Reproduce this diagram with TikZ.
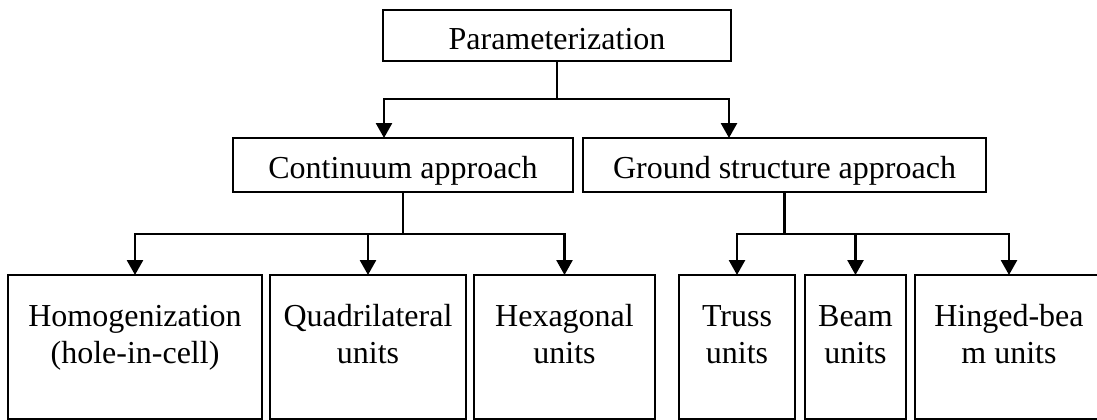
\documentclass[tikz,border=0pt]{standalone}
\usepackage{fontspec}
\setmainfont{Liberation Serif}
\usetikzlibrary{arrows.meta}
\begin{document}
\begin{tikzpicture}[x=1pt,y=-1pt,
  box/.style={draw,line width=1.8pt,inner sep=0pt,outer sep=0pt},
  txt/.style={font=\fontsize{32pt}{37pt}\selectfont,inner sep=0pt,align=center},
  conn/.style={line width=2.7pt},
  arr/.style={conn,-{Triangle[width=16pt,length=15pt]}}]
\useasboundingbox (0,0) rectangle (1097,420);
\clip (0,0) rectangle (1097,420);
\fill[white] (0,0) rectangle (1097,420);
% level 0
\node[box,minimum width=348pt,minimum height=51pt] (P) at (557,35.5) {};
\node[txt,anchor=base] (Pt) at (557,50) {Parameterization};
% level 1
\node[box,minimum width=340pt,minimum height=54pt] (C) at (403,165) {};
\node[txt,anchor=base] (Ct) at (403,178) {Continuum approach};
\node[box,minimum width=403pt,minimum height=54pt] (G) at (784.5,165) {};
\node[txt,anchor=base] (Gt) at (784.5,178) {Ground structure approach};
% level 2
\node[box,minimum width=254pt,minimum height=144pt] (H) at (135,347) {};
\node[txt,anchor=base] (Ht) at (135,363) {Homogenization\\(hole-in-cell)};
\node[box,minimum width=196pt,minimum height=144pt] (Q) at (368,347) {};
\node[txt,anchor=base] (Qt) at (368,363) {Quadrilateral\\units};
\node[box,minimum width=181pt,minimum height=144pt] (X) at (564.5,347) {};
\node[txt,anchor=base] (Xt) at (564.5,363) {Hexagonal\\units};
\node[box,minimum width=116pt,minimum height=144pt] (T) at (737,347) {};
\node[txt,anchor=base] (Tt) at (737,363) {Truss\\units};
\node[box,minimum width=101pt,minimum height=144pt] (B) at (855.5,347) {};
\node[txt,anchor=base] (Bt) at (855.5,363) {Beam\\units};
\node[box,minimum width=188pt,minimum height=144pt] (N) at (1009,347) {};
\node[txt,anchor=base] (Nt) at (1009,363) {Hinged-bea\\m units};
% connectors
\coordinate (j0) at ([yshift=-38pt]P.south);
\draw[conn] (P.south) -- (j0);
\draw[arr] (j0) -| ([xshift=-19pt]C.north);
\draw[arr] (j0) -| ([xshift=-55.5pt]G.north);
\coordinate (j1) at ([yshift=-42pt]C.south);
\draw[conn] (C.south) -- (j1);
\draw[arr] (j1) -| (H.north);
\draw[arr] (j1) -| (Q.north);
\draw[arr] (j1) -| (X.north);
\coordinate (j2) at ([yshift=-42pt]G.south);
\draw[conn] (G.south) -- (j2);
\draw[arr] (j2) -| (T.north);
\draw[arr] (j2) -| (B.north);
\draw[arr] (j2) -| (N.north);
\end{tikzpicture}
\end{document}
